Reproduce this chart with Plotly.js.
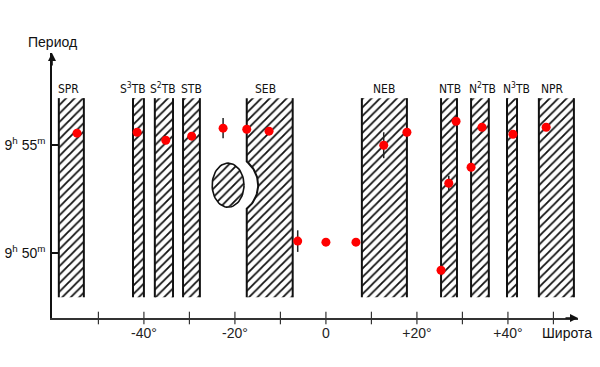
<!DOCTYPE html>
<html>
<head>
<meta charset="utf-8">
<script src="https://cdn.plot.ly/plotly-3.0.1.min.js"></script>
<style>html,body{margin:0;padding:0;background:#fff}#chart{width:600px;height:367px}</style>
</head>
<body>
<div id="chart"></div>
<script>
// ---- Data ----
// Red points: latitude (deg) and rotation period (minutes past 9h)
const pointLat    = [-54.7, -41.5, -35.2, -29.5, -22.6, -17.4, -12.5, -6.2, 0.0, 6.6, 12.7, 17.8, 28.6, 34.3, 41.1, 48.4, 31.9, 27.0, 25.3];
const pointPeriod = [55.56, 55.60, 55.23, 55.42, 55.79, 55.74, 55.65, 50.56, 50.51, 50.51, 55.00, 55.60, 56.11, 55.83, 55.51, 55.83, 53.98, 53.24, 49.21];
const pointErr    = [0, 0, 0, 0, 0.47, 0, 0, 0.5, 0, 0, 0.6, 0, 0, 0, 0, 0, 0, 0.35, 0];

// Belts / zones (latitude limits)
const bandNames = ['SPR', 'S<sup>3</sup>TB', 'S<sup>2</sup>TB', 'STB', 'SEB', 'NEB', 'NTB', 'N<sup>2</sup>TB', 'N<sup>3</sup>TB', 'NPR'];
const bandLeft  = [-58.7, -42.4, -37.6, -31.4, -17.4, 7.9, 25.3, 31.9, 39.8, 46.8];
const bandRight = [-53.2, -40.0, -33.6, -27.7, -7.3, 17.8, 28.8, 35.8, 42.0, 54.5];
const bandTop = 57.18;
const bandBottom = 47.96;

// Great Red Spot (centre lat, centre period, half-width deg, half-height min) and its hollow in the SEB
const grsLat = -21.5, grsPeriod = 53.15, grsHalfW = 3.5, grsHalfH = 1.02;
const hollowHalfW = 6.6, hollowHalfH = 1.39;

// Axis ticks
const xTickMarks = [-50, -40, -30, -20, -10, 0, 10, 20, 30, 40, 50];
const xLabelVals = [-40, -20, 0, 20, 40];
const xLabelText = ['-40°', '-20°', '0', '+20°', '+40°'];
const yTickVals = [50, 55];
const yTickText = ['9<sup>h</sup> 50<sup>m</sup>', '9<sup>h</sup> 55<sup>m</sup>'];

const xRange = [-60.2, 55.4];
const yRange = [47.0, 59.27];

// ---- Build traces ----
const hatch = {shape: '/', fgcolor: '#111', bgcolor: '#fff', size: 6, solidity: 0.3};
const traces = [];
const edgeX = [], edgeY = [];
const sebIndex = bandNames.indexOf('SEB');

function hollowArc(left) {
  const t0 = Math.acos((left - grsLat) / hollowHalfW);
  const xs = [], ys = [];
  for (let i = 0; i <= 30; i++) {
    const t = t0 - (2 * t0) * i / 30;
    xs.push(grsLat + hollowHalfW * Math.cos(t));
    ys.push(grsPeriod + hollowHalfH * Math.sin(t));
  }
  return {xs, ys};
}

for (let i = 0; i < bandNames.length; i++) {
  const L = bandLeft[i], R = bandRight[i];
  let leftX = [L, L], leftY = [bandTop, bandBottom];
  if (i === sebIndex) {
    const arc = hollowArc(L);
    leftX = [L].concat(arc.xs, [L]);
    leftY = [bandTop].concat(arc.ys, [bandBottom]);
  }
  const px = leftX.concat([R, R]);
  const py = leftY.concat([bandBottom, bandTop]);
  traces.push({
    type: 'scatter', mode: 'none', x: px, y: py, fill: 'toself',
    fillcolor: '#fff', fillpattern: hatch, hoverinfo: 'skip', showlegend: false
  });
  edgeX.push(...leftX, null, R, R, null);
  edgeY.push(...leftY, null, bandBottom, bandTop, null);
}

// Great Red Spot ellipse
const gx = [], gy = [];
for (let i = 0; i <= 60; i++) {
  const t = 2 * Math.PI * i / 60;
  gx.push(grsLat + grsHalfW * Math.cos(t));
  gy.push(grsPeriod + grsHalfH * Math.sin(t));
}
traces.push({
  type: 'scatter', mode: 'lines', x: gx, y: gy, fill: 'toself', fillcolor: '#fff',
  fillpattern: hatch, line: {color: '#111', width: 1.6}, hoverinfo: 'skip', showlegend: false
});

// Band edges
traces.push({
  type: 'scatter', mode: 'lines', x: edgeX, y: edgeY, connectgaps: false,
  line: {color: '#111', width: 2}, hoverinfo: 'skip', showlegend: false
});

// X tick marks crossing the axis
traces.push({
  type: 'scatter', mode: 'markers', x: xTickMarks, y: xTickMarks.map(() => yRange[0]),
  marker: {symbol: 'line-ns', size: 9, line: {color: '#333', width: 1.2}},
  cliponaxis: false, hoverinfo: 'skip', showlegend: false
});

// Red points
traces.push({
  type: 'scatter', mode: 'markers', x: pointLat, y: pointPeriod,
  marker: {color: '#ff0000', size: 9},
  error_y: {type: 'data', array: pointErr, visible: true, color: '#222', thickness: 1.5, width: 0},
  cliponaxis: false, showlegend: false
});

// ---- Annotations ----
const labelShiftPx = [-3, -5, -1, 0, -4, 0, 1, 3, 4, -4];
const annotations = [];
for (let i = 0; i < bandNames.length; i++) {
  annotations.push({
    x: (bandLeft[i] + bandRight[i]) / 2, y: bandTop, xref: 'x', yref: 'y',
    text: bandNames[i], showarrow: false, yanchor: 'bottom', yshift: 0, xshift: labelShiftPx[i],
    font: {family: 'DejaVu Sans Condensed, Liberation Sans Narrow, Arial Narrow, sans-serif', size: 12, color: '#111'}
  });
}
annotations.push({
  x: xRange[0], y: 1, xref: 'x', yref: 'paper', text: 'Период', showarrow: false,
  xanchor: 'center', yanchor: 'middle', yshift: 11,
  font: {family: 'Liberation Sans, Arial, sans-serif', size: 14, color: '#111'}
});
annotations.push({
  x: 47.0, y: 0, xref: 'x', yref: 'paper', text: 'Широта', showarrow: false,
  xanchor: 'left', yanchor: 'middle', yshift: -15,
  font: {family: 'Liberation Sans, Arial, sans-serif', size: 14, color: '#111'}
});
// axis arrows
annotations.push({
  x: xRange[0], y: yRange[1], xref: 'x', yref: 'y', ax: 0, ay: 14, text: '',
  showarrow: true, arrowhead: 2, arrowsize: 1, arrowwidth: 1.6, arrowcolor: '#111'
});
annotations.push({
  x: xRange[1], y: yRange[0], xref: 'x', yref: 'y', ax: -14, ay: 0, text: '',
  showarrow: true, arrowhead: 2, arrowsize: 1, arrowwidth: 1.6, arrowcolor: '#111'
});

const layout = {
  width: 600, height: 367,
  margin: {l: 52, r: 22, t: 53, b: 49},
  paper_bgcolor: '#fff', plot_bgcolor: '#fff',
  showlegend: false,
  xaxis: {
    range: xRange, showgrid: false, zeroline: false, showline: true,
    linecolor: '#333', linewidth: 1.5, ticks: '', tickvals: xLabelVals, ticktext: xLabelText,
    ticklabelstandoff: 2,
    tickfont: {family: 'Liberation Sans, Arial, sans-serif', size: 14, color: '#222'}
  },
  yaxis: {
    range: yRange, showgrid: false, zeroline: false, showline: true,
    linecolor: '#111', linewidth: 1.8, ticks: 'inside', ticklen: 6, tickwidth: 1.8, tickcolor: '#111',
    tickvals: yTickVals, ticktext: yTickText, ticklabelstandoff: 2,
    tickfont: {family: 'Liberation Sans, Arial, sans-serif', size: 14, color: '#111'}
  },
  annotations: annotations
};

Plotly.newPlot('chart', traces, layout, {displayModeBar: false, staticPlot: true});
</script>
</body>
</html>
